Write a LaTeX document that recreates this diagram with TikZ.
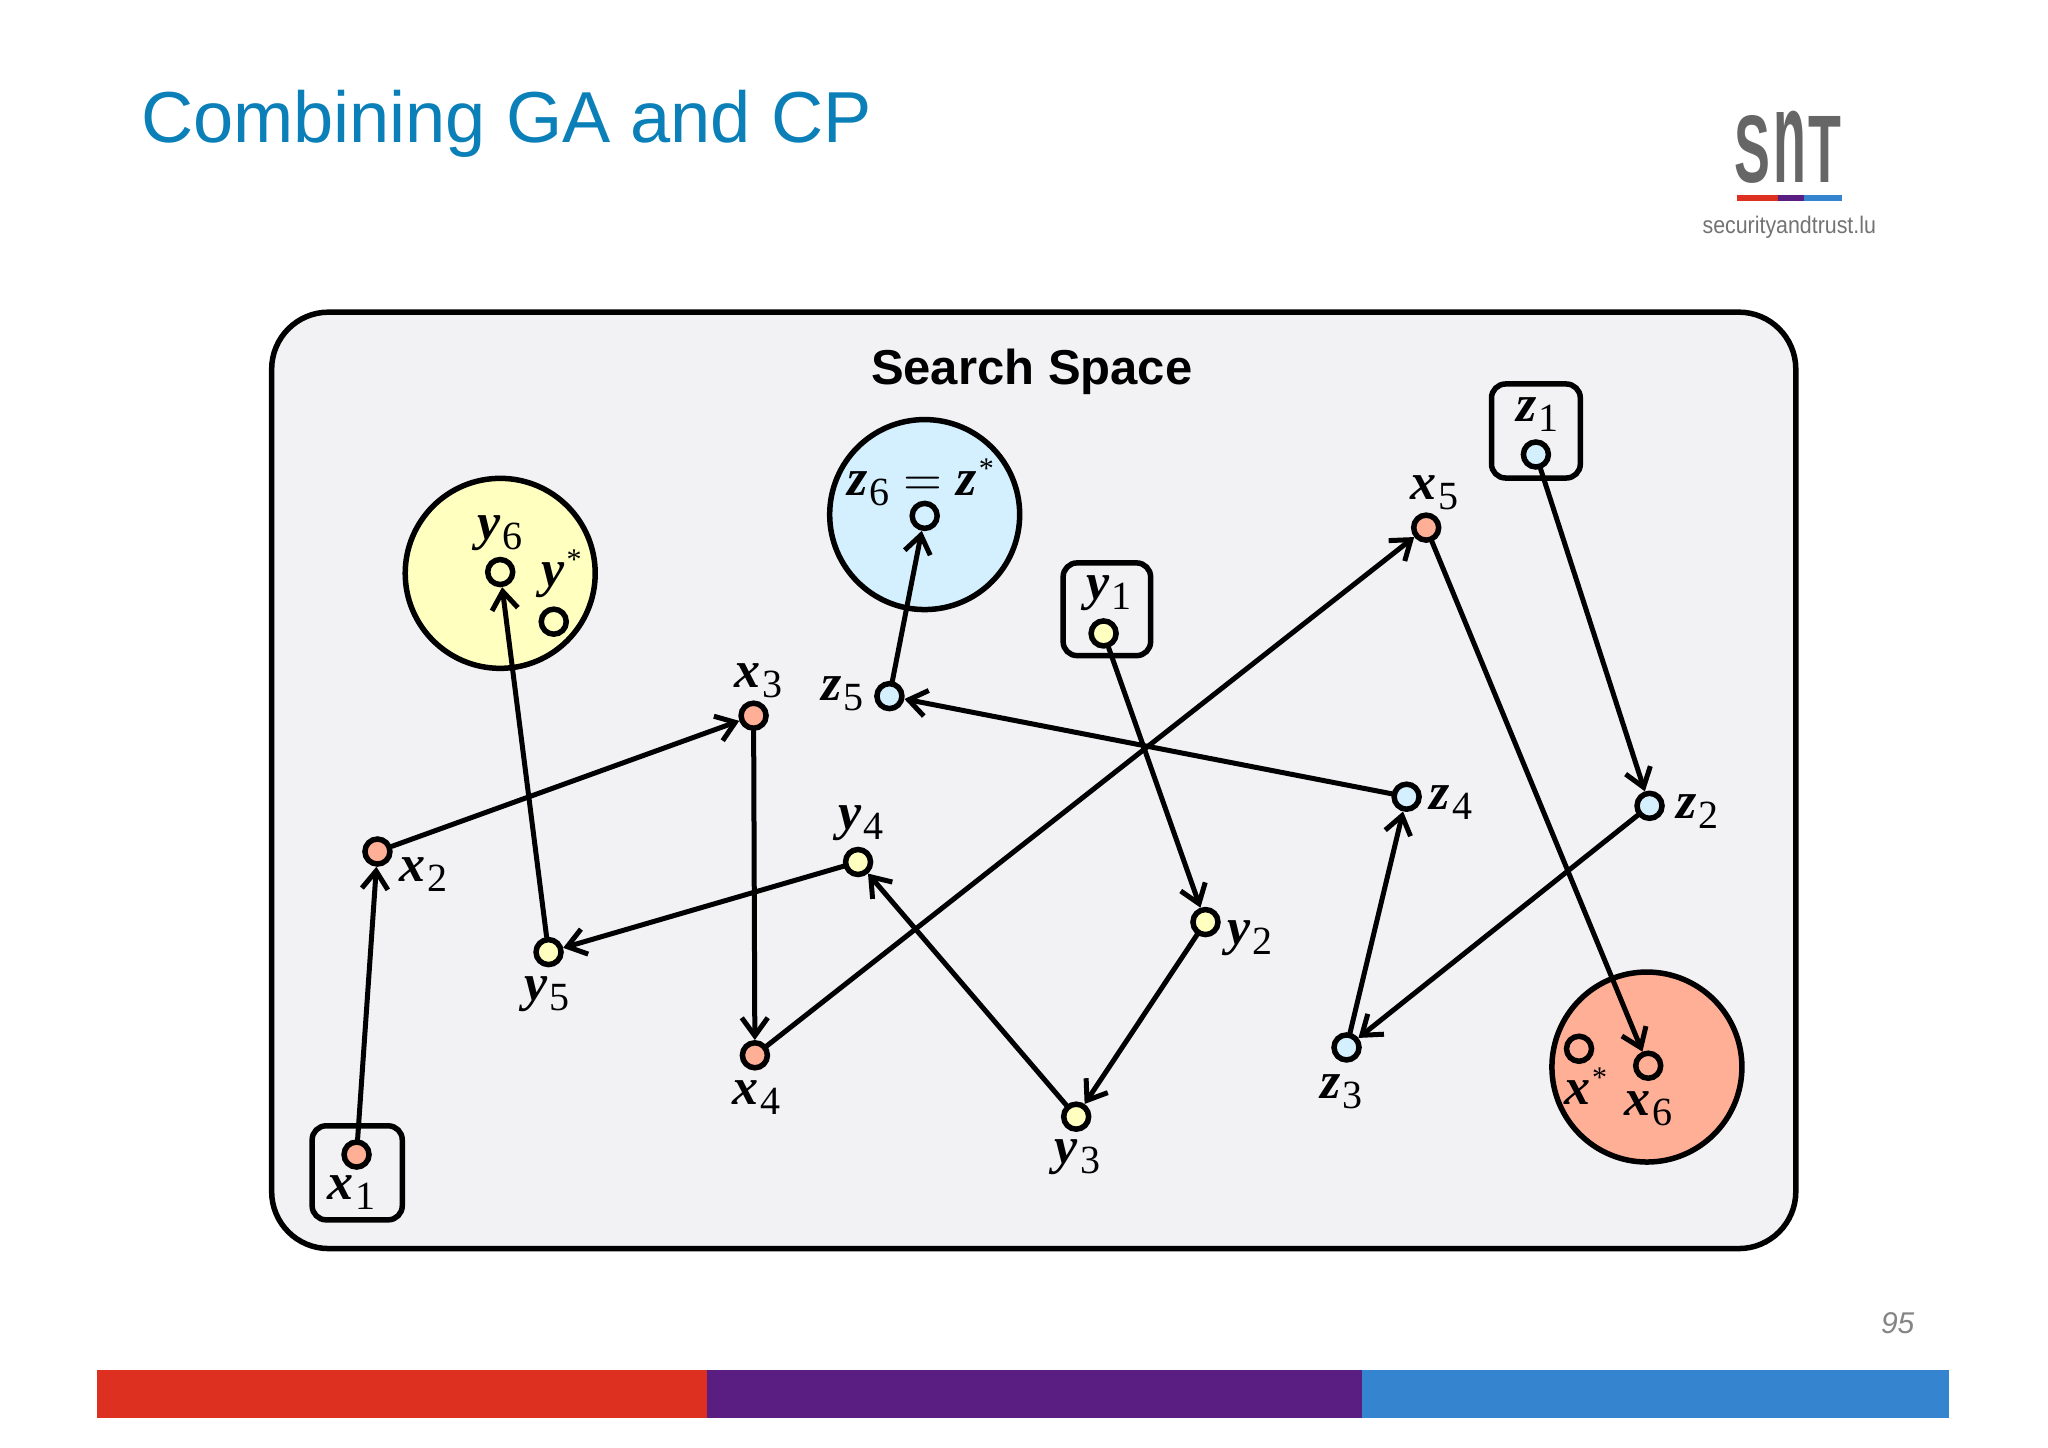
\documentclass[tikz,border=0pt]{standalone}
\usepackage{fontspec}
\setmainfont{Liberation Serif}
\newfontfamily\sansf{Liberation Sans}
\usetikzlibrary{arrows.meta}
\definecolor{titleblue}{HTML}{0A7FB8}
\definecolor{framefill}{HTML}{F2F1F4}
\definecolor{salm}{HTML}{FFAF96}
\definecolor{yell}{HTML}{FFFFC0}
\definecolor{skyb}{HTML}{D4F0FF}
\definecolor{barred}{HTML}{DE3020}
\definecolor{barpurple}{HTML}{5A1E82}
\definecolor{barblue}{HTML}{3484D0}
\font\eqfont=cmr10 at 50pt
\newcommand{\glyph}[1]{{\fontsize{52}{56}\selectfont\bfseries\itshape #1}}
\newcommand{\lab}[2]{\glyph{#1}\kern2pt\raisebox{-10pt}{\fontsize{40}{42}\selectfont #2}}
\newcommand{\stlab}[1]{\glyph{#1}\kern2pt\raisebox{17pt}{\fontsize{30}{32}\selectfont *}}
\tikzset{
  pt/.style={circle,draw=black,line width=5.5pt,minimum size=25pt,inner sep=0pt,yshift=-1.3pt},
  bigc/.style={circle,draw=black,line width=5.5pt,minimum size=190pt,inner sep=0pt,yshift=-1.3pt},
  startbox/.style={draw=black,line width=5.5pt,rounded corners=14pt,fill=framefill},
  arr/.style={line width=5pt,line cap=round,-{Straight Barb[length=18pt,width=26pt,line width=5pt]}},
  txt/.style={inner sep=0pt,outer sep=0pt},
  vlab/.style={txt,yshift=-3pt}
}
\begin{document}
\begin{tikzpicture}[x=1.306pt,y=-1.306pt]
\useasboundingbox (0,0) rectangle (1568.1,1108);
\fill[white] (0,0) rectangle (1568.1,1108);
% title and logo
\node[txt,anchor=base west,text=titleblue] (title) at (108,109) {\sansf\fontsize{72.2}{80}\selectfont Combining GA and CP};
\node[txt,text=black!60] (logo) at (1369,113) {\sansf\bfseries\scalebox{0.56}[1.0]{\fontsize{96}{100}\selectfont S\kern5pt\scalebox{1}[1.38]{n}\kern5pt T}};
\fill[barred] (1330,149) rectangle (1361,154);
\fill[barpurple] (1361,149) rectangle (1381,154);
\fill[barblue] (1381,149) rectangle (1410,154);
\node[txt,text=black!55] (url) at (1370,174) {\sansf\scalebox{0.89}[1.0]{\fontsize{24}{28}\selectfont securityandtrust.lu}};
% frame
\draw[line width=5.5pt,fill=framefill,rounded corners=57pt] (208,239) rectangle (1375,956);
\node[txt] (head) at (790,285) {\sansf\bfseries\fontsize{49}{52}\selectfont Search Space};
% big circles
\node[bigc,fill=yell] (by) at (383,438) {};
\node[bigc,fill=skyb] (bz) at (708,393) {};
\node[bigc,fill=salm] (bx) at (1261,816) {};
% start boxes
\draw[startbox] (239,862) rectangle (308,934);
\draw[startbox] (1142,294) rectangle (1210,366);
\draw[startbox] (814,431) rectangle (881,502);
% points
\node[pt,fill=salm] (x1) at (273,883) {};
\node[pt,fill=salm] (x2) at (289,651) {};
\node[pt,fill=salm] (x3) at (577,547) {};
\node[pt,fill=salm] (x4) at (578,807) {};
\node[pt,fill=salm] (x5) at (1092,403) {};
\node[pt,fill=salm] (x6) at (1262,815) {};
\node[pt,fill=salm] (xs) at (1209,802) {};
\node[pt,fill=yell] (y1) at (845,484) {};
\node[pt,fill=yell] (y2) at (923,705) {};
\node[pt,fill=yell] (y3) at (824,854) {};
\node[pt,fill=yell] (y4) at (657,659) {};
\node[pt,fill=yell] (y5) at (420,728) {};
\node[pt,fill=yell] (y6) at (383,437) {};
\node[pt,fill=yell] (ys) at (424,475) {};
\node[pt,fill=skyb] (z1) at (1176,347) {};
\node[pt,fill=skyb] (z2) at (1263,616) {};
\node[pt,fill=skyb] (z3) at (1031,801) {};
\node[pt,fill=skyb] (z4) at (1077,609) {};
\node[pt,fill=skyb] (z5) at (681,532) {};
\node[pt,fill=skyb] (z6) at (708,394) {};
% connectors
\draw[arr] (x1) -- (x2);
\draw[arr] (x2) -- (x3);
\draw[arr] (x3) -- (x4);
\draw[arr] (x4) -- (x5);
\draw[arr] (x5) -- (x6);
\draw[arr] (y1) -- (y2);
\draw[arr] (y2) -- (y3);
\draw[arr] (y3) -- (y4);
\draw[arr] (y4) -- (y5);
\draw[arr] (y5) -- (y6);
\draw[arr] (z1) -- (z2);
\draw[arr] (z2) -- (z3);
\draw[arr] (z3) -- (z4);
\draw[arr] (z4) -- (z5);
\draw[arr] (z5) -- (z6);
% labels
\node[vlab] (lx1) at (269,911) {\lab{x}{1}};
\node[vlab] (lx2) at (324,667) {\lab{x}{2}};
\node[vlab] (lx3) at (581,519) {\lab{x}{3}};
\node[vlab] (lx4) at (579,838) {\lab{x}{4}};
\node[vlab] (lx5) at (1098,375) {\lab{x}{5}};
\node[vlab] (lx6) at (1262,847) {\lab{x}{6}};
\node[vlab] (lxs) at (1214,829) {\stlab{x}};
\node[vlab] (ly1) at (849,452) {\lab{y}{1}};
\node[vlab] (ly2) at (957,716) {\lab{y}{2}};
\node[vlab] (ly3) at (825,884) {\lab{y}{3}};
\node[vlab] (ly4) at (659,628) {\lab{y}{4}};
\node[vlab] (ly5) at (419,759) {\lab{y}{5}};
\node[vlab] (ly6) at (383,406) {\lab{y}{6}};
\node[vlab] (lys) at (430,437) {\stlab{y}};
\node[vlab] (lz1) at (1177,315) {\lab{z}{1}};
\node[vlab] (lz2) at (1300,619) {\lab{z}{2}};
\node[vlab] (lz3) at (1027,834) {\lab{z}{3}};
\node[vlab] (lz4) at (1111,612) {\lab{z}{4}};
\node[vlab] (lz5) at (645,529) {\lab{z}{5}};
\node[vlab] (lz6) at (705,367) {\lab{z}{6}\kern14pt{\eqfont =}\kern14pt\stlab{z}};
% footer
\node[txt,text=black!48] (pg) at (1453,1013) {\sansf\itshape\fontsize{30}{34}\selectfont 95};
\fill[barred] (74,1049) rectangle (541,1086);
\fill[barpurple] (541,1049) rectangle (1043,1086);
\fill[barblue] (1043,1049) rectangle (1492,1086);
\end{tikzpicture}
\end{document}
